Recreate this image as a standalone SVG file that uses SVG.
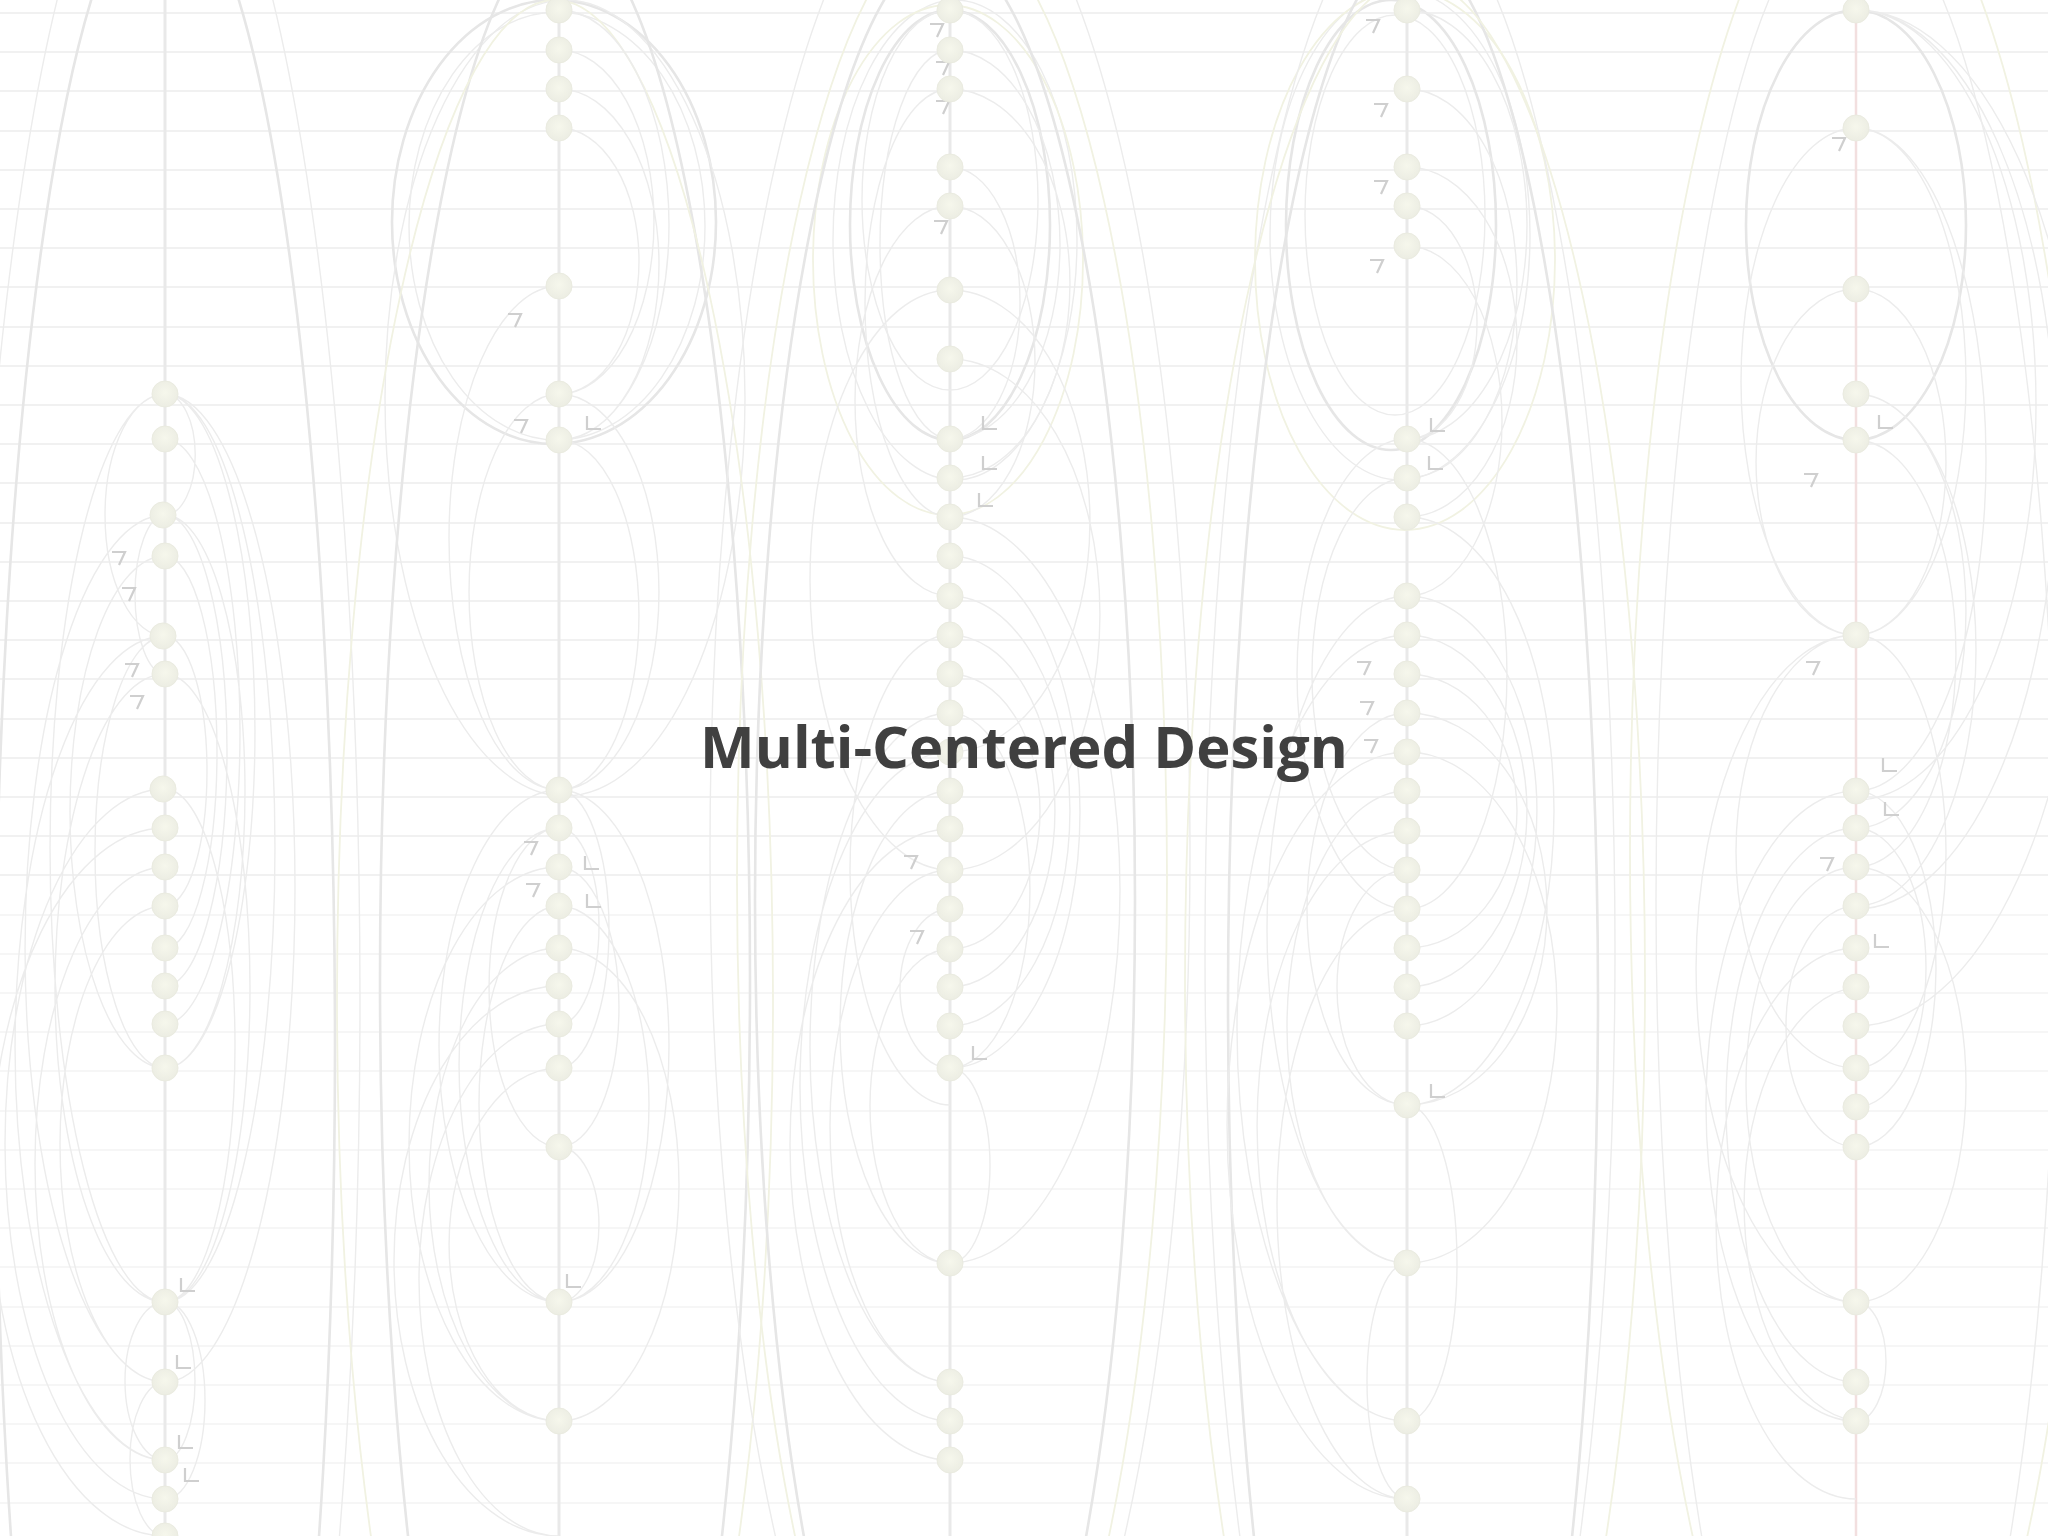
<svg xmlns="http://www.w3.org/2000/svg" xmlns:xlink="http://www.w3.org/1999/xlink" width="2048" height="1536" viewBox="0 0 2048 1536">
<defs>
<radialGradient id="ng" cx="0.5" cy="0.45" r="0.55">
<stop offset="0" stop-color="#f6f7ec"/>
<stop offset="1" stop-color="#ecede3"/>
</radialGradient>
<path id="a7" d="M-10,-4 H3 L-3,9"/>
<path id="aL" d="M-5,-10 V3 H9"/>
</defs>
<style>
.h1{stroke:#f1f1f1;stroke-width:2}
.h2{stroke:#f6f6f6;stroke-width:2}
.v{stroke:#e9e9e9;stroke-width:3;fill:none}
.vp{stroke:#f2dfdf;stroke-width:2.5;fill:none}
.n circle{fill:url(#ng);stroke:#eaebe0;stroke-width:1}
.a{fill:none;stroke:#ececec;stroke-width:1.4}
.ay{fill:none;stroke:#f1f2e2;stroke-width:1.8}
.at{fill:none;stroke:#e6e6e6;stroke-width:2.6}
.ar{fill:none;stroke:#cfcfcf;stroke-width:2.2}
.title{font-family:"Open Sans","Liberation Sans",sans-serif;font-weight:700;font-size:58px;fill:#404040}
</style>
<rect width="2048" height="1536" fill="#ffffff"/>
<g id="grid">
<g class="h1">
<line x1="0" y1="13" x2="2048" y2="13"/><line x1="0" y1="52" x2="2048" y2="52"/><line x1="0" y1="91" x2="2048" y2="91"/><line x1="0" y1="131" x2="2048" y2="131"/><line x1="0" y1="170" x2="2048" y2="170"/><line x1="0" y1="209" x2="2048" y2="209"/><line x1="0" y1="248" x2="2048" y2="248"/><line x1="0" y1="287" x2="2048" y2="287"/><line x1="0" y1="327" x2="2048" y2="327"/><line x1="0" y1="366" x2="2048" y2="366"/><line x1="0" y1="405" x2="2048" y2="405"/><line x1="0" y1="444" x2="2048" y2="444"/><line x1="0" y1="483" x2="2048" y2="483"/><line x1="0" y1="523" x2="2048" y2="523"/><line x1="0" y1="562" x2="2048" y2="562"/><line x1="0" y1="601" x2="2048" y2="601"/><line x1="0" y1="640" x2="2048" y2="640"/><line x1="0" y1="679" x2="2048" y2="679"/><line x1="0" y1="719" x2="2048" y2="719"/><line x1="0" y1="758" x2="2048" y2="758"/><line x1="0" y1="797" x2="2048" y2="797"/><line x1="0" y1="836" x2="2048" y2="836"/><line x1="0" y1="875" x2="2048" y2="875"/>
</g>
<g class="h2">
<line x1="0" y1="915" x2="2048" y2="915"/><line x1="0" y1="954" x2="2048" y2="954"/><line x1="0" y1="993" x2="2048" y2="993"/><line x1="0" y1="1032" x2="2048" y2="1032"/><line x1="0" y1="1071" x2="2048" y2="1071"/><line x1="0" y1="1111" x2="2048" y2="1111"/><line x1="0" y1="1150" x2="2048" y2="1150"/><line x1="0" y1="1189" x2="2048" y2="1189"/><line x1="0" y1="1228" x2="2048" y2="1228"/><line x1="0" y1="1267" x2="2048" y2="1267"/><line x1="0" y1="1307" x2="2048" y2="1307"/><line x1="0" y1="1346" x2="2048" y2="1346"/><line x1="0" y1="1385" x2="2048" y2="1385"/><line x1="0" y1="1424" x2="2048" y2="1424"/><line x1="0" y1="1463" x2="2048" y2="1463"/><line x1="0" y1="1503" x2="2048" y2="1503"/>
</g>
<line class="v" x1="165" y1="0" x2="165" y2="1536"/>
<line class="v" x1="559" y1="0" x2="559" y2="1536"/>
<line class="v" x1="950" y1="0" x2="950" y2="1536"/>
<line class="v" x1="1407" y1="0" x2="1407" y2="1536"/>
<line class="vp" x1="1856" y1="0" x2="1856" y2="1536"/>
</g>
<g id="connectors">
<!-- column 1 -->
<ellipse class="at" cx="165" cy="1045" rx="170" ry="1160"/>
<ellipse class="a" cx="165" cy="1000" rx="195" ry="1200"/>
<path class="a" d="M165 394A110 454 0 0 1 165 1302M165 394A90 337 0 0 1 165 1068M165 439A75 292.5 0 0 1 165 1024M165 394A130 494 0 0 1 165 1382M165 515A62 235.5 0 0 1 165 986M165 515A80 276.5 0 0 1 165 1068M165 556A52 196 0 0 1 165 948M165 636A42 135 0 0 1 165 906M165 674A85 314 0 0 1 165 1302M165 789A70 256.5 0 0 1 165 1302M165 1302A30 79 0 0 1 165 1460M165 1302A40 98.5 0 0 1 165 1499M165 394A30 60 0 0 1 165 515"/>
<path class="a" d="M165 394A115 454 0 0 0 165 1302M165 515A140 433.5 0 0 0 165 1382M165 556A95 256 0 0 0 165 1068M165 636A150 412 0 0 0 165 1460M165 674A110 314 0 0 0 165 1302M165 789A160 355 0 0 0 165 1499M165 828A175 354 0 0 0 165 1536M165 867A130 296.5 0 0 0 165 1460M165 906A105 238 0 0 0 165 1382M165 515A30 79.5 0 0 0 165 674M165 394A60 121 0 0 0 165 636M165 1302A40 79 0 0 0 165 1460M165 1382A35 77 0 0 0 165 1536M165 636A70 216 0 0 0 165 1068"/>
<!-- column 2 -->
<ellipse class="at" cx="554" cy="222" rx="162" ry="222"/>
<ellipse class="a" cx="557" cy="226" rx="148" ry="214"/>
<ellipse class="a" cx="565" cy="398" rx="180" ry="398"/>
<ellipse class="at" cx="565" cy="980" rx="185" ry="1050"/>
<ellipse class="ay" cx="555" cy="1000" rx="218" ry="1000"/>
<path class="a" d="M559 10A110 215 0 0 1 559 440M559 50A95 172 0 0 1 559 394M559 89A100 175.5 0 0 1 559 440M559 128A80 133 0 0 1 559 394M559 394A100 198 0 0 1 559 790M559 440A80 175 0 0 1 559 790M559 790A50 139 0 0 1 559 1068M559 828A40 98 0 0 1 559 1024M559 867A60 140 0 0 1 559 1147M559 906A90 198 0 0 1 559 1302M559 790A110 256 0 0 1 559 1302M559 948A120 236.5 0 0 1 559 1421M559 1147A40 77.5 0 0 1 559 1302"/>
<path class="a" d="M559 286A110 252 0 0 0 559 790M559 394A90 198 0 0 0 559 790M559 790A120 256 0 0 0 559 1302M559 828A100 237 0 0 0 559 1302M559 867A150 277 0 0 0 559 1421M559 906A80 198 0 0 0 559 1302M559 948A130 236.5 0 0 0 559 1421M559 986A165 275 0 0 0 559 1536M559 828A70 159.5 0 0 0 559 1147M559 1024A140 256 0 0 0 559 1536M559 1068A110 176.5 0 0 0 559 1421"/>
<!-- column 3 -->
<ellipse class="at" cx="950" cy="225" rx="100" ry="215"/>
<ellipse class="a" cx="955" cy="240" rx="122" ry="240"/>
<ellipse class="ay" cx="948" cy="260" rx="135" ry="255"/>
<ellipse class="a" cx="950" cy="200" rx="88" ry="190"/>
<ellipse class="at" cx="945" cy="900" rx="190" ry="950"/>
<ellipse class="a" cx="950" cy="850" rx="240" ry="1000"/>
<ellipse class="ay" cx="952" cy="880" rx="215" ry="960"/>
<path class="a" d="M950 50A110 194.5 0 0 1 950 439M950 89A120 194.5 0 0 1 950 478M950 167A70 136 0 0 1 950 439M950 206A85 155.5 0 0 1 950 517M950 290A140 231 0 0 1 950 752M950 359A150 255.5 0 0 1 950 870M950 556A130 256 0 0 1 950 1068M950 596A120 215 0 0 1 950 1026M950 635A105 176 0 0 1 950 987M950 674A90 137.5 0 0 1 950 949M950 517A170 373 0 0 1 950 1263M950 713A80 177.5 0 0 1 950 1068M950 1068A40 97.5 0 0 1 950 1263"/>
<path class="a" d="M950 206A95 195 0 0 0 950 596M950 290A140 290 0 0 0 950 870M950 713A140 334.5 0 0 0 950 1382M950 752A150 334.5 0 0 0 950 1421M950 791A110 236 0 0 0 950 1263M950 829A160 315.5 0 0 0 950 1460M950 870A120 256 0 0 0 950 1382M950 909A50 79.5 0 0 0 950 1068M950 949A80 157 0 0 0 950 1263M950 635A100 235 0 0 0 950 1105M950 50A70 194.5 0 0 0 950 439M950 89A85 214 0 0 0 950 517"/>
<!-- column 4 -->
<ellipse class="at" cx="1391" cy="225" rx="105" ry="225"/>
<ellipse class="a" cx="1400" cy="235" rx="130" ry="245"/>
<ellipse class="a" cx="1395" cy="215" rx="90" ry="200"/>
<ellipse class="ay" cx="1405" cy="260" rx="150" ry="270"/>
<ellipse class="at" cx="1413" cy="1000" rx="185" ry="1050"/>
<ellipse class="a" cx="1410" cy="950" rx="205" ry="1050"/>
<ellipse class="ay" cx="1415" cy="980" rx="230" ry="1000"/>
<path class="a" d="M1407 10A120 214.5 0 0 1 1407 439M1407 89A110 194.5 0 0 1 1407 478M1407 167A110 175 0 0 1 1407 517M1407 206A70 116.5 0 0 1 1407 439M1407 246A95 175 0 0 1 1407 596M1407 517A147 294 0 0 1 1407 1105M1407 596A130 215 0 0 1 1407 1026M1407 635A120 176 0 0 1 1407 987M1407 674A110 137 0 0 1 1407 948M1407 713A140 196 0 0 1 1407 1105M1407 752A150 255.5 0 0 1 1407 1263M1407 439A100 235 0 0 1 1407 909M1407 1105A50 158 0 0 1 1407 1421"/>
<path class="a" d="M1407 596A140 333.5 0 0 0 1407 1263M1407 635A170 393 0 0 0 1407 1421M1407 713A100 196 0 0 0 1407 1105M1407 752A180 373.5 0 0 0 1407 1499M1407 791A120 236 0 0 0 1407 1263M1407 831A150 295 0 0 0 1407 1421M1407 870A70 117.5 0 0 0 1407 1105M1407 439A110 235 0 0 0 1407 909M1407 478A95 196 0 0 0 1407 870M1407 909A130 295 0 0 0 1407 1499M1407 1263A40 118 0 0 0 1407 1499"/>
<!-- column 5 -->
<ellipse class="at" cx="1856" cy="225" rx="110" ry="215"/>
<ellipse class="a" cx="1856" cy="900" rx="200" ry="1000"/>
<ellipse class="ay" cx="1860" cy="850" rx="230" ry="1000"/>
<path class="a" d="M1856 10A180 395 0 0 1 1856 800M1856 10A200 449.5 0 0 1 1856 909M1856 10A230 508 0 0 1 1856 1026M1856 128A110 253.5 0 0 1 1856 635M1856 128A130 331.5 0 0 1 1856 791M1856 289A90 173 0 0 1 1856 635M1856 394A110 217 0 0 1 1856 828M1856 394A120 256 0 0 1 1856 906M1856 440A100 213.5 0 0 1 1856 867M1856 635A90 216.5 0 0 1 1856 1068M1856 791A80 178 0 0 1 1856 1147M1856 828A70 139.5 0 0 1 1856 1107M1856 1302A30 59.5 0 0 1 1856 1421M1856 867A110 217.5 0 0 1 1856 1302"/>
<path class="a" d="M1856 128A115 253.5 0 0 0 1856 635M1856 635A160 333.5 0 0 0 1856 1302M1856 791A150 315 0 0 0 1856 1421M1856 828A130 277 0 0 0 1856 1382M1856 867A110 217.5 0 0 0 1856 1302M1856 906A70 120.5 0 0 0 1856 1147M1856 635A120 216.5 0 0 0 1856 1068M1856 948A140 275.5 0 0 0 1856 1499M1856 987A120 217.5 0 0 0 1856 1421M1856 289A100 173 0 0 0 1856 635"/>
</g>
<g id="arrows" class="ar">
<use xlink:href="#a7" x="122" y="556"/><use xlink:href="#a7" x="132" y="592"/><use xlink:href="#a7" x="135" y="668"/><use xlink:href="#a7" x="140" y="700"/>
<use xlink:href="#aL" x="186" y="1288"/><use xlink:href="#aL" x="182" y="1365"/><use xlink:href="#aL" x="184" y="1445"/><use xlink:href="#aL" x="190" y="1478"/>
<use xlink:href="#a7" x="518" y="318"/><use xlink:href="#a7" x="524" y="424"/><use xlink:href="#aL" x="592" y="426"/><use xlink:href="#a7" x="534" y="846"/><use xlink:href="#a7" x="536" y="888"/><use xlink:href="#aL" x="590" y="866"/><use xlink:href="#aL" x="592" y="904"/><use xlink:href="#aL" x="572" y="1284"/>
<use xlink:href="#a7" x="940" y="28"/><use xlink:href="#a7" x="946" y="66"/><use xlink:href="#a7" x="946" y="105"/><use xlink:href="#a7" x="944" y="225"/><use xlink:href="#aL" x="988" y="426"/><use xlink:href="#aL" x="988" y="466"/><use xlink:href="#aL" x="984" y="503"/><use xlink:href="#a7" x="914" y="860"/><use xlink:href="#a7" x="920" y="935"/><use xlink:href="#aL" x="978" y="1056"/>
<use xlink:href="#a7" x="1376" y="24"/><use xlink:href="#a7" x="1384" y="108"/><use xlink:href="#a7" x="1384" y="185"/><use xlink:href="#a7" x="1380" y="264"/><use xlink:href="#aL" x="1436" y="428"/><use xlink:href="#aL" x="1434" y="466"/><use xlink:href="#a7" x="1367" y="666"/><use xlink:href="#a7" x="1370" y="706"/><use xlink:href="#a7" x="1374" y="744"/><use xlink:href="#aL" x="1436" y="1094"/>
<use xlink:href="#a7" x="1842" y="142"/><use xlink:href="#aL" x="1884" y="425"/><use xlink:href="#a7" x="1814" y="478"/><use xlink:href="#a7" x="1816" y="666"/><use xlink:href="#aL" x="1888" y="768"/><use xlink:href="#aL" x="1890" y="812"/><use xlink:href="#a7" x="1830" y="862"/><use xlink:href="#aL" x="1880" y="944"/>
</g>
<g id="nodes">
<g id="c1n1" class="n"><circle cx="165" cy="394" r="13"/></g>
<g id="c1n2" class="n"><circle cx="165" cy="439" r="13"/></g>
<g id="c1n3" class="n"><circle cx="163" cy="515" r="13"/></g>
<g id="c1n4" class="n"><circle cx="165" cy="556" r="13"/></g>
<g id="c1n5" class="n"><circle cx="163" cy="636" r="13"/></g>
<g id="c1n6" class="n"><circle cx="165" cy="674" r="13"/></g>
<g id="c1n7" class="n"><circle cx="163" cy="789" r="13"/></g>
<g id="c1n8" class="n"><circle cx="165" cy="828" r="13"/></g>
<g id="c1n9" class="n"><circle cx="165" cy="867" r="13"/></g>
<g id="c1n10" class="n"><circle cx="165" cy="906" r="13"/></g>
<g id="c1n11" class="n"><circle cx="165" cy="948" r="13"/></g>
<g id="c1n12" class="n"><circle cx="165" cy="986" r="13"/></g>
<g id="c1n13" class="n"><circle cx="165" cy="1024" r="13"/></g>
<g id="c1n14" class="n"><circle cx="165" cy="1068" r="13"/></g>
<g id="c1n15" class="n"><circle cx="165" cy="1302" r="13"/></g>
<g id="c1n16" class="n"><circle cx="165" cy="1382" r="13"/></g>
<g id="c1n17" class="n"><circle cx="165" cy="1460" r="13"/></g>
<g id="c1n18" class="n"><circle cx="165" cy="1499" r="13"/></g>
<g id="c1n19" class="n"><circle cx="165" cy="1536" r="13"/></g>
<g id="c2n1" class="n"><circle cx="559" cy="10" r="13"/></g>
<g id="c2n2" class="n"><circle cx="559" cy="50" r="13"/></g>
<g id="c2n3" class="n"><circle cx="559" cy="89" r="13"/></g>
<g id="c2n4" class="n"><circle cx="559" cy="128" r="13"/></g>
<g id="c2n5" class="n"><circle cx="559" cy="286" r="13"/></g>
<g id="c2n6" class="n"><circle cx="559" cy="394" r="13"/></g>
<g id="c2n7" class="n"><circle cx="559" cy="440" r="13"/></g>
<g id="c2n8" class="n"><circle cx="559" cy="790" r="13"/></g>
<g id="c2n9" class="n"><circle cx="559" cy="828" r="13"/></g>
<g id="c2n10" class="n"><circle cx="559" cy="867" r="13"/></g>
<g id="c2n11" class="n"><circle cx="559" cy="906" r="13"/></g>
<g id="c2n12" class="n"><circle cx="559" cy="948" r="13"/></g>
<g id="c2n13" class="n"><circle cx="559" cy="986" r="13"/></g>
<g id="c2n14" class="n"><circle cx="559" cy="1024" r="13"/></g>
<g id="c2n15" class="n"><circle cx="559" cy="1068" r="13"/></g>
<g id="c2n16" class="n"><circle cx="559" cy="1147" r="13"/></g>
<g id="c2n17" class="n"><circle cx="559" cy="1302" r="13"/></g>
<g id="c2n18" class="n"><circle cx="559" cy="1421" r="13"/></g>
<g id="c3n1" class="n"><circle cx="950" cy="10" r="13"/></g>
<g id="c3n2" class="n"><circle cx="950" cy="50" r="13"/></g>
<g id="c3n3" class="n"><circle cx="950" cy="89" r="13"/></g>
<g id="c3n4" class="n"><circle cx="950" cy="167" r="13"/></g>
<g id="c3n5" class="n"><circle cx="950" cy="206" r="13"/></g>
<g id="c3n6" class="n"><circle cx="950" cy="290" r="13"/></g>
<g id="c3n7" class="n"><circle cx="950" cy="359" r="13"/></g>
<g id="c3n8" class="n"><circle cx="950" cy="439" r="13"/></g>
<g id="c3n9" class="n"><circle cx="950" cy="478" r="13"/></g>
<g id="c3n10" class="n"><circle cx="950" cy="517" r="13"/></g>
<g id="c3n11" class="n"><circle cx="950" cy="556" r="13"/></g>
<g id="c3n12" class="n"><circle cx="950" cy="596" r="13"/></g>
<g id="c3n13" class="n"><circle cx="950" cy="635" r="13"/></g>
<g id="c3n14" class="n"><circle cx="950" cy="674" r="13"/></g>
<g id="c3n15" class="n"><circle cx="950" cy="713" r="13"/></g>
<g id="c3n16" class="n"><circle cx="950" cy="752" r="13"/></g>
<g id="c3n17" class="n"><circle cx="950" cy="791" r="13"/></g>
<g id="c3n18" class="n"><circle cx="950" cy="829" r="13"/></g>
<g id="c3n19" class="n"><circle cx="950" cy="870" r="13"/></g>
<g id="c3n20" class="n"><circle cx="950" cy="909" r="13"/></g>
<g id="c3n21" class="n"><circle cx="950" cy="949" r="13"/></g>
<g id="c3n22" class="n"><circle cx="950" cy="987" r="13"/></g>
<g id="c3n23" class="n"><circle cx="950" cy="1026" r="13"/></g>
<g id="c3n24" class="n"><circle cx="950" cy="1068" r="13"/></g>
<g id="c3n25" class="n"><circle cx="950" cy="1263" r="13"/></g>
<g id="c3n26" class="n"><circle cx="950" cy="1382" r="13"/></g>
<g id="c3n27" class="n"><circle cx="950" cy="1421" r="13"/></g>
<g id="c3n28" class="n"><circle cx="950" cy="1460" r="13"/></g>
<g id="c4n1" class="n"><circle cx="1407" cy="10" r="13"/></g>
<g id="c4n2" class="n"><circle cx="1407" cy="89" r="13"/></g>
<g id="c4n3" class="n"><circle cx="1407" cy="167" r="13"/></g>
<g id="c4n4" class="n"><circle cx="1407" cy="206" r="13"/></g>
<g id="c4n5" class="n"><circle cx="1407" cy="246" r="13"/></g>
<g id="c4n6" class="n"><circle cx="1407" cy="439" r="13"/></g>
<g id="c4n7" class="n"><circle cx="1407" cy="478" r="13"/></g>
<g id="c4n8" class="n"><circle cx="1407" cy="517" r="13"/></g>
<g id="c4n9" class="n"><circle cx="1407" cy="596" r="13"/></g>
<g id="c4n10" class="n"><circle cx="1407" cy="635" r="13"/></g>
<g id="c4n11" class="n"><circle cx="1407" cy="674" r="13"/></g>
<g id="c4n12" class="n"><circle cx="1407" cy="713" r="13"/></g>
<g id="c4n13" class="n"><circle cx="1407" cy="752" r="13"/></g>
<g id="c4n14" class="n"><circle cx="1407" cy="791" r="13"/></g>
<g id="c4n15" class="n"><circle cx="1407" cy="831" r="13"/></g>
<g id="c4n16" class="n"><circle cx="1407" cy="870" r="13"/></g>
<g id="c4n17" class="n"><circle cx="1407" cy="909" r="13"/></g>
<g id="c4n18" class="n"><circle cx="1407" cy="948" r="13"/></g>
<g id="c4n19" class="n"><circle cx="1407" cy="987" r="13"/></g>
<g id="c4n20" class="n"><circle cx="1407" cy="1026" r="13"/></g>
<g id="c4n21" class="n"><circle cx="1407" cy="1105" r="13"/></g>
<g id="c4n22" class="n"><circle cx="1407" cy="1263" r="13"/></g>
<g id="c4n23" class="n"><circle cx="1407" cy="1421" r="13"/></g>
<g id="c4n24" class="n"><circle cx="1407" cy="1499" r="13"/></g>
<g id="c5n1" class="n"><circle cx="1856" cy="10" r="13"/></g>
<g id="c5n2" class="n"><circle cx="1856" cy="128" r="13"/></g>
<g id="c5n3" class="n"><circle cx="1856" cy="289" r="13"/></g>
<g id="c5n4" class="n"><circle cx="1856" cy="394" r="13"/></g>
<g id="c5n5" class="n"><circle cx="1856" cy="440" r="13"/></g>
<g id="c5n6" class="n"><circle cx="1856" cy="635" r="13"/></g>
<g id="c5n7" class="n"><circle cx="1856" cy="791" r="13"/></g>
<g id="c5n8" class="n"><circle cx="1856" cy="828" r="13"/></g>
<g id="c5n9" class="n"><circle cx="1856" cy="867" r="13"/></g>
<g id="c5n10" class="n"><circle cx="1856" cy="906" r="13"/></g>
<g id="c5n11" class="n"><circle cx="1856" cy="948" r="13"/></g>
<g id="c5n12" class="n"><circle cx="1856" cy="987" r="13"/></g>
<g id="c5n13" class="n"><circle cx="1856" cy="1026" r="13"/></g>
<g id="c5n14" class="n"><circle cx="1856" cy="1068" r="13"/></g>
<g id="c5n15" class="n"><circle cx="1856" cy="1107" r="13"/></g>
<g id="c5n16" class="n"><circle cx="1856" cy="1147" r="13"/></g>
<g id="c5n17" class="n"><circle cx="1856" cy="1302" r="13"/></g>
<g id="c5n18" class="n"><circle cx="1856" cy="1382" r="13"/></g>
<g id="c5n19" class="n"><circle cx="1856" cy="1421" r="13"/></g>
</g>
<g id="title">
<text class="title" x="1024" y="768" text-anchor="middle">Multi-Centered Design</text>
</g>
</svg>
